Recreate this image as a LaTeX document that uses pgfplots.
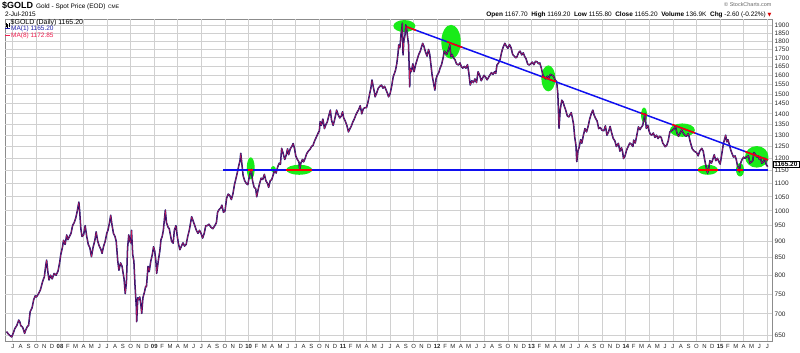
\documentclass[border=0pt]{standalone}
\usepackage{pgfplots}
\pgfplotsset{compat=1.18}
\usepackage{pgfplotstable}
\usepackage{fontspec}
\setmainfont{Liberation Sans}
\newfontfamily\dejavu{DejaVu Sans}
\definecolor{navyp}{RGB}{15,15,115}
\definecolor{mared}{RGB}{240,30,80}
\definecolor{ellg}{RGB}{25,235,25}
\definecolor{tline}{RGB}{15,15,240}
\definecolor{ma1}{RGB}{30,30,170}
\definecolor{gridc}{RGB}{208,208,208}

\pgfplotstableread{
m p
5.20 658
5.45 652
5.70 648
5.85 646
6.00 652
6.25 665
6.50 672
6.75 685
6.90 680
7.00 672
7.25 668
7.50 654
7.65 662
7.85 670
8.00 672
8.20 705
8.45 715
8.65 735
8.85 745
9.00 742
9.25 750
9.50 760
9.75 780
9.90 790
10.00 795
10.20 830
10.30 843
10.45 810
10.60 787
10.80 800
11.00 790
11.25 805
11.50 800
11.75 812
11.95 835
12.10 860
12.30 880
12.45 903
12.65 890
12.85 920
13.00 905
13.20 915
13.40 925
13.60 950
13.80 960
14.00 975
14.20 1000
14.40 1031
14.50 1000
14.65 940
14.80 915
15.00 920
15.20 950
15.40 915
15.60 890
15.80 880
16.00 853
16.20 880
16.45 905
16.60 930
16.80 900
17.00 885
17.20 875
17.35 863
17.55 885
17.75 900
17.95 925
18.10 935
18.30 960
18.45 985
18.60 955
18.80 925
19.00 915
19.15 900
19.35 840
19.50 814
19.70 835
19.90 825
20.00 810
20.15 790
20.30 751
20.45 780
20.60 880
20.75 920
20.90 900
21.00 895
21.10 935
21.25 860
21.40 840
21.55 770
21.70 720
21.76 681
21.90 740
22.00 735
22.15 742
22.30 720
22.40 701
22.55 740
22.75 755
22.90 770
23.00 769
23.20 825
23.35 810
23.55 840
23.75 860
23.90 883
24.05 870
24.20 840
24.30 805
24.50 840
24.70 870
24.85 905
25.00 915
25.15 935
25.30 975
25.40 1003
25.55 960
25.75 945
25.90 940
26.05 920
26.20 900
26.40 894
26.55 935
26.75 950
26.90 920
27.05 895
27.25 874
27.45 885
27.65 895
27.85 885
28.05 890
28.25 915
28.45 935
28.60 957
28.75 980
28.95 965
29.15 950
29.35 935
29.55 925
29.75 935
29.95 925
30.15 910
30.35 925
30.55 950
30.75 950
30.95 955
31.20 945
31.45 940
31.70 950
31.90 960
32.05 995
32.25 1005
32.45 1010
32.60 1020
32.80 995
33.00 1000
33.20 1045
33.40 1060
33.60 1055
33.80 1040
34.00 1060
34.20 1095
34.40 1120
34.55 1140
34.75 1170
34.90 1190
35.00 1221
35.10 1190
35.30 1130
35.50 1110
35.70 1100
35.90 1095
36.05 1120
36.20 1140
36.35 1155
36.50 1110
36.70 1085
36.90 1080
37.03 1050
37.20 1075
37.40 1100
37.60 1120
37.80 1115
38.00 1135
38.20 1110
38.40 1100
38.55 1085
38.75 1110
38.95 1115
39.10 1130
39.30 1150
39.50 1140
39.70 1165
39.90 1180
40.05 1175
40.20 1242
40.40 1220
40.60 1195
40.80 1215
40.95 1240
41.10 1215
41.30 1240
41.50 1250
41.67 1263
41.85 1240
42.00 1210
42.20 1195
42.40 1185
42.50 1153
42.65 1180
42.85 1195
43.00 1185
43.20 1200
43.40 1220
43.60 1230
43.85 1240
44.00 1250
44.20 1255
44.40 1275
44.60 1290
44.85 1310
45.00 1320
45.10 1363
45.25 1345
45.45 1375
45.65 1330
45.85 1350
46.00 1360
46.20 1390
46.40 1418
46.55 1370
46.75 1345
46.90 1365
47.05 1390
47.20 1418
47.40 1395
47.60 1380
47.80 1390
47.95 1410
48.10 1380
48.30 1365
48.50 1345
48.70 1315
48.90 1330
49.05 1340
49.25 1360
49.45 1375
49.65 1395
49.85 1410
50.00 1420
50.20 1440
50.40 1400
50.60 1425
50.80 1430
51.00 1430
51.20 1460
51.40 1500
51.55 1529
51.70 1574
51.85 1540
52.00 1510
52.10 1485
52.30 1505
52.50 1530
52.70 1540
52.90 1547
53.10 1530
53.30 1540
53.50 1520
53.70 1500
53.80 1485
54.00 1500
54.20 1540
54.40 1592
54.55 1610
54.70 1630
54.85 1665
55.00 1720
55.10 1778
55.25 1760
55.40 1850
55.50 1880
55.56 1917
55.65 1717
55.75 1800
55.90 1840
56.00 1905
56.10 1880
56.20 1839
56.35 1780
56.50 1537
56.55 1640
56.70 1620
56.90 1665
57.05 1620
57.25 1660
57.45 1690
57.65 1720
57.85 1740
58.00 1765
58.15 1788
58.30 1770
58.50 1736
58.70 1710
58.90 1750
59.05 1720
59.20 1660
59.35 1600
59.50 1565
59.70 1520
59.85 1580
60.00 1600
60.20 1615
60.36 1640
60.55 1660
60.75 1700
60.90 1740
61.05 1730
61.20 1720
61.40 1745
61.60 1778
61.75 1706
61.90 1720
62.05 1700
62.25 1690
62.45 1665
62.70 1658
62.90 1670
63.05 1650
63.25 1640
63.45 1650
63.65 1640
63.85 1660
64.00 1620
64.20 1547
64.40 1570
64.60 1560
64.80 1580
65.00 1560
65.20 1620
65.40 1600
65.60 1570
65.75 1583
65.95 1600
66.15 1590
66.35 1575
66.55 1590
66.70 1601
66.90 1615
67.10 1605
67.30 1620
67.45 1610
67.60 1658
67.80 1670
68.00 1690
68.20 1735
68.40 1765
68.60 1788
68.80 1770
69.00 1757
69.20 1780
69.40 1760
69.60 1720
69.80 1710
70.00 1700
70.15 1706
70.35 1730
70.55 1740
70.75 1717
70.95 1730
71.10 1710
71.30 1695
71.50 1665
71.70 1658
71.90 1665
72.10 1675
72.30 1660
72.50 1680
72.70 1677
72.90 1665
73.05 1670
73.25 1640
73.45 1600
73.60 1592
73.80 1580
74.00 1595
74.20 1585
74.40 1605
74.60 1601
74.80 1595
75.00 1575
75.20 1565
75.35 1500
75.50 1331
75.65 1420
75.85 1468
76.00 1460
76.15 1440
76.35 1418
76.55 1390
76.75 1385
76.90 1395
77.05 1406
77.20 1380
77.35 1350
77.50 1290
77.65 1256
77.76 1186
77.90 1230
78.05 1245
78.25 1280
78.40 1264
78.60 1300
78.80 1330
79.00 1315
79.20 1340
79.40 1375
79.60 1400
79.80 1418
79.95 1395
80.15 1378
80.35 1365
80.55 1330
80.75 1335
80.95 1323
81.20 1320
81.40 1343
81.60 1300
81.80 1315
82.00 1340
82.20 1310
82.40 1285
82.60 1275
82.80 1250
83.05 1264
83.25 1230
83.45 1245
83.60 1225
83.70 1199
83.90 1210
84.10 1235
84.30 1250
84.50 1265
84.70 1260
84.90 1250
85.00 1278
85.20 1265
85.40 1300
85.60 1338
85.80 1325
85.95 1335
86.15 1345
86.30 1375
86.45 1402
86.60 1331
86.80 1345
86.95 1320
87.10 1305
87.30 1300
87.50 1310
87.70 1290
87.90 1300
88.10 1285
88.30 1295
88.50 1290
88.70 1265
88.90 1255
89.00 1249
89.20 1255
89.40 1275
89.60 1315
89.80 1320
90.00 1325
90.15 1330
90.30 1343
90.50 1310
90.70 1295
90.90 1310
91.10 1323
91.30 1310
91.50 1300
91.70 1295
91.96 1307
92.20 1270
92.45 1240
92.70 1230
93.00 1224
93.20 1210
93.40 1230
93.66 1242
93.85 1230
94.00 1200
94.15 1175
94.30 1153
94.40 1140
94.55 1160
94.70 1190
94.90 1180
95.10 1199
95.25 1215
95.45 1190
95.65 1200
95.85 1185
96.00 1176
96.20 1215
96.40 1260
96.55 1280
96.70 1300
96.85 1270
97.00 1280
97.20 1255
97.35 1235
97.50 1221
97.70 1205
97.90 1210
98.05 1195
98.20 1170
98.35 1160
98.45 1145
98.60 1180
98.80 1195
99.00 1205
99.15 1200
99.40 1206
99.60 1210
99.80 1180
100.00 1185
100.15 1190
100.30 1224
100.50 1215
100.70 1205
100.85 1210
101.00 1195
101.10 1206
101.30 1180
101.50 1185
101.70 1200
101.85 1175
102.05 1165.2
}\gold

\begin{document}
\begin{tikzpicture}
\begin{axis}[
  at={(0,0)}, anchor=south west,
  scale only axis, width=767bp, height=322bp,
  xmin=5, xmax=102.6, ymin=637, ymax=1945,
  ymode=log,
  axis line style={draw=black!45, line width=0.5bp},
  ytick={650,700,750,800,850,900,950,1000,1050,1100,1150,1200,1250,1300,1350,1400,1450,1500,1550,1600,1650,1700,1750,1800,1850,1900},
  yticklabels={650,700,750,800,850,900,950,1000,1050,1100,1150,1200,1250,1300,1350,1400,1450,1500,1550,1600,1650,1700,1750,1800,1850,1900},
  yticklabel pos=right,
  yticklabel style={anchor=west, inner sep=0pt, xshift=2.5bp, font=\fontsize{6.5}{7}\selectfont, text=black!85},
  xtick={6,...,102},
  xticklabels={J,A,S,O,N,D,
    {\textbf{08}},F,M,A,M,J,J,A,S,O,N,D,
    {\textbf{09}},F,M,A,M,J,J,A,S,O,N,D,
    {\textbf{10}},F,M,A,M,J,J,A,S,O,N,D,
    {\textbf{11}},F,M,A,M,J,J,A,S,O,N,D,
    {\textbf{12}},F,M,A,M,J,J,A,S,O,N,D,
    {\textbf{13}},F,M,A,M,J,J,A,S,O,N,D,
    {\textbf{14}},F,M,A,M,J,J,A,S,O,N,D,
    {\textbf{15}},F,M,A,M,J,J},
  xticklabel style={anchor=base, inner sep=0pt, yshift=-7.5bp, font=\fontsize{6}{6}\selectfont, text=black!85},
  tick style={draw=none},
  clip=false,
]
% grid (horizontal at each tick, vertical each quarter)
\pgfplotsinvokeforeach{650,700,750,800,850,900,950,1000,1050,1100,1150,1200,1250,1300,1350,1400,1450,1500,1550,1600,1650,1700,1750,1800,1850,1900}{
  \draw[gridc, line width=0.8bp] (axis cs:5,#1) -- (axis cs:102.6,#1);
}
\pgfplotsinvokeforeach{6,9,12,15,18,21,24,27,30,33,36,39,42,45,48,51,54,57,60,63,66,69,72,75,78,81,84,87,90,93,96,99,102}{
  \draw[gridc, line width=0.8bp] (axis cs:#1,637) -- (axis cs:#1,1945);
}
% green ellipses (annotations)
\fill[ellg] (axis cs:36.27,1159) ellipse [x radius=4bp, y radius=11bp];
\fill[ellg] (axis cs:39.14,1156) ellipse [x radius=2.5bp, y radius=3bp];
\fill[ellg] (axis cs:42.45,1153) ellipse [x radius=13bp, y radius=5bp];
\fill[ellg] (axis cs:55.82,1898) ellipse [x radius=11bp, y radius=6bp];
\fill[ellg] (axis cs:61.76,1797) ellipse [x radius=9.7bp, y radius=17bp];
\fill[ellg] (axis cs:74.14,1583) ellipse [x radius=7bp, y radius=13bp];
\fill[ellg] (axis cs:86.32,1394) ellipse [x radius=3bp, y radius=7.5bp];
\fill[ellg] (axis cs:91.19,1323) ellipse [x radius=12.5bp, y radius=6.7bp];
\fill[ellg] (axis cs:94.43,1153) ellipse [x radius=10bp, y radius=5bp];
\fill[ellg] (axis cs:98.53,1153) ellipse [x radius=4bp, y radius=6.7bp];
\fill[ellg] (axis cs:100.66,1206) ellipse [x radius=11.7bp, y radius=10.8bp];
% price (MA(1)) and MA(8)
\addplot[navyp, line width=1.5bp, line join=round] table {\gold};
\addplot[mared, line width=0.45bp, opacity=0.8, line join=round] table {\gold};
% trend lines
\addplot[tline, line width=1.5bp] coordinates {(56.1,1893) (102.1,1193)};
\addplot[tline, line width=1.5bp] coordinates {(32.8,1153) (102.1,1153)};
% red parts inside the ellipses
\addplot[red, line width=1.5bp] coordinates {(56.1,1893) (57.3,1870)};
\addplot[red, line width=1.5bp] coordinates {(61.25,1797) (63.2,1762)};
\addplot[red, line width=1.5bp] coordinates {(73.3,1593) (75.1,1565)};
\addplot[red, line width=1.5bp] coordinates {(85.9,1404) (86.7,1393)};
\addplot[red, line width=1.5bp] coordinates {(89.9,1349) (92.8,1310)};
\addplot[red, line width=1.5bp] coordinates {(99.2,1228) (102.1,1193)};
\addplot[red, line width=1.5bp] coordinates {(35.9,1153) (36.6,1153)};
\addplot[red, line width=1.5bp] coordinates {(40.8,1153) (44.1,1153)};
\addplot[red, line width=1.5bp] coordinates {(93.2,1153) (95.7,1153)};
\addplot[red, line width=1.5bp] coordinates {(98.2,1153) (98.9,1153)};
\coordinate (pl) at (axis cs:102.6,1165.2);
\end{axis}
% price label
\node[anchor=west, draw=black, fill=white, line width=0.6bp, inner xsep=1.5bp, inner ysep=0.6bp, font=\fontsize{6.5}{6.5}\selectfont\bfseries] at ([xshift=0.5bp,yshift=2.5bp]pl) {1165.20};
% title
\node[anchor=base west, inner sep=0pt] at (-3bp,332.7bp) {{\fontsize{9}{9}\selectfont\bfseries \$GOLD}\hspace{3bp}{\fontsize{6.5}{7}\selectfont Gold - Spot Price (EOD)}\hspace{2.5bp}{\fontsize{5}{6}\selectfont CME}};
\node[anchor=base west, inner sep=0pt, font=\fontsize{6.5}{7}\selectfont] at (0bp,324.3bp) {2-Jul-2015};
\node[anchor=base east, inner sep=0pt, font=\fontsize{5.5}{6}\selectfont, text=black!60] at (766.7bp,334bp) {\textcopyright\ StockCharts.com};
\node[anchor=base east, inner sep=0pt, font=\fontsize{6.5}{7}\selectfont] at (766.7bp,324.3bp) {\textbf{Open} 1167.70\ \ \textbf{High} 1169.20\ \ \textbf{Low} 1155.80\ \ \textbf{Close} 1165.20\ \ \textbf{Volume} 136.9K\ \ \textbf{Chg} -2.60 (-0.22\%) {\dejavu\fontsize{5}{5}\selectfont\color{red!85!black}▼}};
% legend
\draw[black, line width=0.5bp] (1bp,313.5bp) -- (1bp,317.5bp) (2.5bp,312.5bp) -- (2.5bp,316.5bp) (4bp,314bp) -- (4bp,318bp);
\node[anchor=base west, inner sep=0pt, font=\fontsize{7}{7}\selectfont] at (5.5bp,316bp) {\$GOLD (Daily) 1165.20};
\draw[ma1, line width=0.9bp] (0.5bp,312.3bp) -- (5bp,312.3bp);
\node[anchor=base west, inner sep=0pt, font=\fontsize{6.5}{7}\selectfont, text=ma1] at (6bp,310bp) {MA(1) 1165.20};
\draw[mared, line width=0.9bp] (0.5bp,306bp) -- (5bp,306bp);
\node[anchor=base west, inner sep=0pt, font=\fontsize{6.5}{7}\selectfont, text=mared] at (6bp,303.7bp) {MA(8) 1172.85};
\pgfresetboundingbox
\useasboundingbox (-5bp,-12bp) rectangle (795bp,341bp);
\end{tikzpicture}
\end{document}
